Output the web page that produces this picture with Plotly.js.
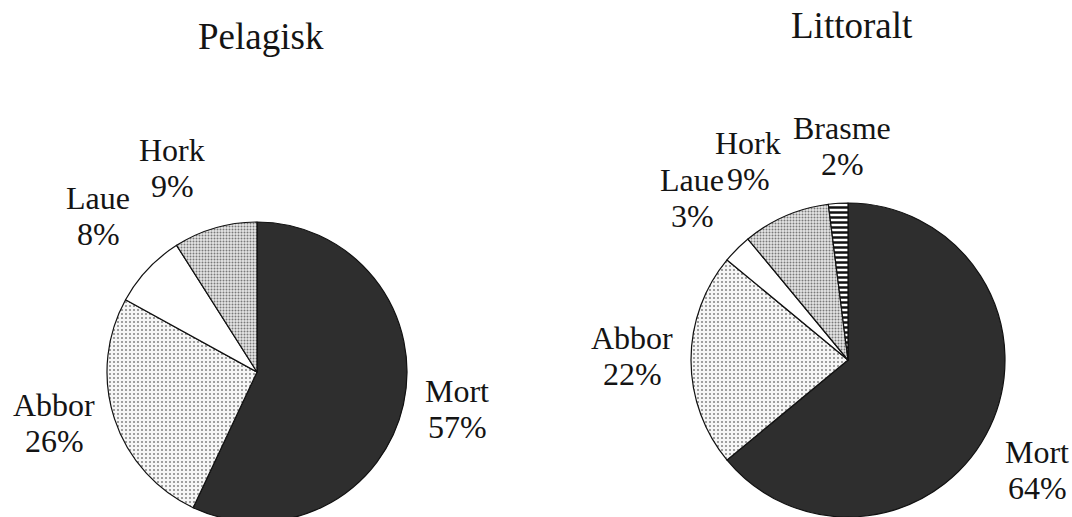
<!DOCTYPE html>
<html>
<head>
<meta charset="utf-8">
<script src="https://cdn.plot.ly/plotly-3.0.1.min.js"></script>
<style>
html,body{margin:0;padding:0;background:#fff;overflow:hidden;}
#chart{width:1072px;height:527px;}
</style>
</head>
<body>
<div id="chart"></div>
<script>
// Data
const pelagiskLabels = ["Mort", "Abbor", "Laue", "Hork"];
const pelagiskValues = [57, 26, 8, 9];
const littoraltLabels = ["Mort", "Abbor", "Laue", "Hork", "Brasme"];
const littoraltValues = [64, 22, 3, 9, 2];
const chartTitles = ["Pelagisk", "Littoralt"];

// Styles per species
const fillStyle = {
  "Mort":   {color: "#2e2e2e", pattern: {shape: ""}},
  "Abbor":  {color: "#ffffff", pattern: {shape: ".", fgcolor: "#8a8a8a", bgcolor: "#f6f6f6", size: 4, solidity: 0.22}},
  "Laue":   {color: "#ffffff", pattern: {shape: ""}},
  "Hork":   {color: "#ffffff", pattern: {shape: ".", fgcolor: "#7a7a7a", bgcolor: "#e6e6e6", size: 3, solidity: 0.35}},
  "Brasme": {color: "#ffffff", pattern: {shape: "-", fgcolor: "#111111", bgcolor: "#ffffff", size: 5, solidity: 0.5}}
};

const W = 1072, H = 527;
function pieTrace(labels, values, cx, cy, r) {
  return {
    type: "pie",
    labels: labels,
    values: values,
    sort: false,
    direction: "clockwise",
    rotation: 0,
    textinfo: "none",
    hoverinfo: "label+percent",
    showlegend: false,
    marker: {
      colors: labels.map(l => fillStyle[l].color),
      pattern: {
        shape: labels.map(l => fillStyle[l].pattern.shape),
        fgcolor: labels.map(l => fillStyle[l].pattern.fgcolor || "#000"),
        bgcolor: labels.map(l => fillStyle[l].pattern.bgcolor || fillStyle[l].color),
        size: labels.map(l => fillStyle[l].pattern.size || 6),
        solidity: labels.map(l => fillStyle[l].pattern.solidity || 0.3),
        fillmode: "replace"
      },
      line: {color: "#111", width: 1.2}
    },
    domain: {
      x: [(cx - r) / W, (cx + r) / W],
      y: [(H - cy - r) / H, (H - cy + r) / H]
    }
  };
}

// label block positions (pixel centers), one per slice, in trace order
const pelagiskLabelPos = [[457, 409], [54, 423], [98, 216], [172, 168]];
const littoraltLabelPos = [[1037, 470], [632, 356], [692, 198], [748, 161], [842, 146]];
const lineGap = 36;

const fontFam = "Liberation Serif, Times New Roman, serif";
const annotations = [];
function addLabels(labels, values, pos) {
  labels.forEach((l, i) => {
    const lines = [l, values[i] + "%"];
    lines.forEach((txt, k) => {
      annotations.push({
        xref: "paper", yref: "paper",
        x: pos[i][0] / W, y: 1 - (pos[i][1] + (k - 0.5) * lineGap) / H,
        xanchor: "center", yanchor: "middle",
        text: txt,
        showarrow: false,
        font: {family: fontFam, size: 32, color: "#141414"}
      });
    });
  });
}
addLabels(pelagiskLabels, pelagiskValues, pelagiskLabelPos);
addLabels(littoraltLabels, littoraltValues, littoraltLabelPos);

const titlePos = [[261, 36], [852, 26]];
chartTitles.forEach((t, i) => {
  annotations.push({
    xref: "paper", yref: "paper",
    x: titlePos[i][0] / W, y: 1 - titlePos[i][1] / H,
    xanchor: "center", yanchor: "middle",
    text: t, showarrow: false,
    font: {family: fontFam, size: 37, color: "#141414"}
  });
});

const data = [
  pieTrace(pelagiskLabels, pelagiskValues, 257, 372, 150),
  pieTrace(littoraltLabels, littoraltValues, 848, 360, 157)
];

const layout = {
  width: W, height: H,
  margin: {l: 0, r: 0, t: 0, b: 0},
  paper_bgcolor: "#ffffff",
  plot_bgcolor: "#ffffff",
  annotations: annotations,
  font: {family: fontFam}
};

Plotly.newPlot("chart", data, layout, {displayModeBar: false, staticPlot: true});
</script>
</body>
</html>
